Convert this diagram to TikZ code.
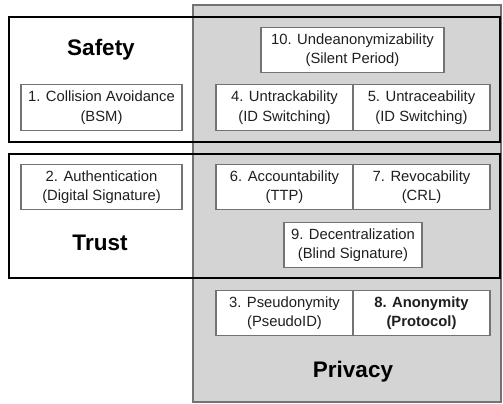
\documentclass[tikz,border=0pt]{standalone}
\usepackage{fontspec}
\setmainfont{Liberation Sans}
\usetikzlibrary{positioning}
\definecolor{PrivGray}{rgb}{0.83, 0.83, 0.83}
\definecolor{EdgeGray}{rgb}{0.45, 0.45, 0.45}
\definecolor{InkGray}{rgb}{0.12, 0.12, 0.12}

\tikzset{
  itembox/.style={draw=EdgeGray, line width=1.2pt, fill=white, text=InkGray,
    align=center, inner sep=0pt, minimum height=45.5pt,
    font=\fontsize{14.8}{19.5}\selectfont},
  widebox/.style={itembox, minimum width=161pt},
  halfbox/.style={itembox, minimum width=137pt},
  grouplabel/.style={text=black, font=\fontsize{22.5}{27}\selectfont\bfseries},
  groupframe/.style={draw=black, line width=2.8pt}
}

\begin{document}
\begin{tikzpicture}[x=1pt, y=-1pt]
\useasboundingbox (0,0) rectangle (503,404);

% privacy region (shaded)
\fill[PrivGray] (193,5) rectangle (501,402);
\draw[EdgeGray, line width=1.4pt] (193,5) rectangle (501,402);

% safety and trust frames
\draw[groupframe] (9,17) rectangle (500,142);
\draw[groupframe] (9,154) rectangle (500,278);

% --- group titles ---
\node[grouplabel] (safety) at (101,50) {Safety};
\node[grouplabel] (trust) at (100,243) {Trust};
\node[grouplabel] (privacy) at (353,372) {Privacy};

% --- safety row ---
\node[itembox, minimum width=183pt] (undeanon) at (352.5,50)
  {10. Undeanonymizability\\(Silent Period)};
\node[widebox] (collision) at (101.5,107.5) {1. Collision Avoidance\\(BSM)};
\node[halfbox] (untrack) at (284.5,107.5) {4. Untrackability\\(ID Switching)};
\node[halfbox] (untrace) at (421.5,107.5) {5. Untraceability\\(ID Switching)};

% --- trust row ---
\node[widebox] (authent) at (101.5,187) {2. Authentication\\(Digital Signature)};
\node[halfbox] (account) at (284.5,187) {6. Accountability\\(TTP)};
\node[halfbox] (revoc) at (421.5,187) {7. Revocability\\(CRL)};
\node[itembox, minimum width=138pt] (decentral) at (353,245)
  {9. Decentralization\\(Blind Signature)};

% --- privacy only ---
\node[halfbox] (pseudo) at (284.5,313) {3. Pseudonymity\\(PseudoID)};
\node[halfbox, font=\fontsize{14.8}{19.5}\selectfont\bfseries] (anonym) at (421.5,313)
  {8. Anonymity\\(Protocol)};

\end{tikzpicture}
\end{document}
